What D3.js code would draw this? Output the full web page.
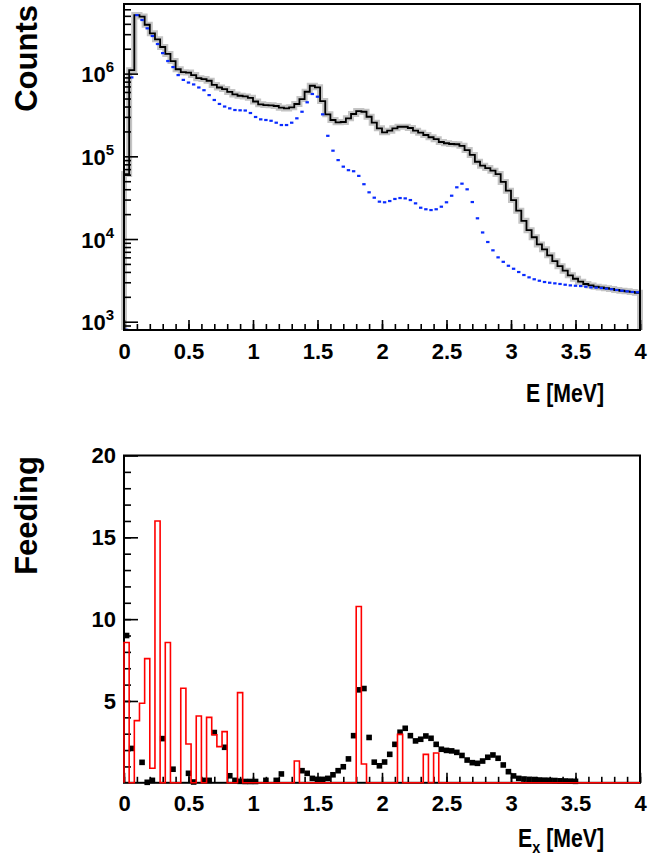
<!DOCTYPE html>
<html>
<head>
<meta charset="utf-8">
<script src="https://cdn.jsdelivr.net/npm/d3@7"></script>
<style>
body { margin: 0; background: #fff; }
text { font-family: "Liberation Sans", Arial, sans-serif; font-weight: bold; }
</style>
</head>
<body>
<script>
"use strict";

// data, 0.04 MeV bins from 0 to 4 MeV

const binWidth = 0.04;

// top pad: total spectrum (black hist) and background component (blue markers)
const countsTotal = [
    6.1e4, 1.1e6, 5.1e6, 4.9e6, 3.9e6, 3.07e6, 2.6e6, 2.1e6, 1.73e6, 1.42e6,
    1.13e6, 1.04e6, 1.03e6, 9.6e5, 8.8e5, 8.6e5, 8.2e5, 7.3e5, 6.8e5, 6.5e5,
    6.0e5, 5.6e5, 5.4e5, 5.3e5, 5.1e5, 4.6e5, 4.25e5, 4.17e5, 4.14e5, 4.06e5,
    3.87e5, 3.8e5, 3.91e5, 4.29e5, 4.93e5, 6.04e5, 7.14e5, 6.82e5, 4.66e5, 3.22e5,
    2.75e5, 2.58e5, 2.6e5, 2.88e5, 3.25e5, 3.53e5, 3.46e5, 3.01e5, 2.55e5, 2.18e5,
    1.95e5, 2.04e5, 2.18e5, 2.28e5, 2.28e5, 2.2e5, 2.04e5, 1.93e5, 1.81e5, 1.7e5,
    1.61e5, 1.49e5, 1.44e5, 1.41e5, 1.4e5, 1.34e5, 1.19e5, 1.04e5, 8.6e4, 7.7e4,
    7.2e4, 6.7e4, 6.1e4, 4.9e4, 3.84e4, 2.96e4, 2.2e4, 1.66e4, 1.28e4, 1.05e4,
    8.6e3, 7.5e3, 6.35e3, 5.4e3, 4.7e3, 4.14e3, 3.64e3, 3.31e3, 3.05e3, 2.86e3,
    2.75e3, 2.65e3, 2.6e3, 2.54e3, 2.49e3, 2.42e3, 2.37e3, 2.33e3, 2.29e3, 2.24e3
];

const countsBackground = [
    8.0e2, 9.0e5, 5.1e6, 4.45e6, 3.53e6, 2.85e6, 2.28e6, 1.77e6, 1.42e6, 1.2e6,
    9.6e5, 8.4e5, 7.8e5, 7.4e5, 6.8e5, 6.3e5, 5.5e5, 4.8e5, 4.3e5, 4.0e5,
    3.8e5, 3.63e5, 3.6e5, 3.58e5, 3.34e5, 2.99e5, 2.8e5, 2.75e5, 2.69e5, 2.55e5,
    2.39e5, 2.39e5, 2.55e5, 2.88e5, 3.46e5, 4.5e5, 5.67e5, 5.26e5, 3.22e5, 1.77e5,
    1.17e5, 9.0e4, 7.5e4, 6.8e4, 6.6e4, 5.8e4, 4.6e4, 3.67e4, 3.16e4, 2.83e4,
    2.78e4, 2.88e4, 3.05e4, 3.13e4, 3.1e4, 2.96e4, 2.7e4, 2.39e4, 2.29e4, 2.24e4,
    2.29e4, 2.46e4, 2.78e4, 3.34e4, 4.22e4, 4.67e4, 3.99e4, 2.8e4, 1.78e4, 1.2e4,
    9.2e3, 7.3e3, 6.0e3, 5.3e3, 4.75e3, 4.37e3, 3.99e3, 3.67e3, 3.44e3, 3.26e3,
    3.13e3, 3.02e3, 2.96e3, 2.91e3, 2.86e3, 2.8e3, 2.75e3, 2.72e3, 2.7e3, 2.65e3,
    2.6e3, 2.58e3, 2.55e3, 2.51e3, 2.47e3, 2.42e3, 2.37e3, 2.33e3, 2.29e3, 2.27e3
];

// bottom pad: feeding from fit (black squares, null = no point) and red histogram
const feedingFit = [
    9.0, 2.1, null, 1.25, 0.03, 0.15, null, 2.7, null, 0.83,
    null, null, 0.58, 0.05, null, 0.15, 0.15, 3.07, null, 2.17,
    0.43, 0.15, 0.09, 0.08, 0.08, 0.08, null, 0.15, null, 0.15,
    0.54, null, null, null, 0.74, 0.58, 0.27, 0.21, 0.21, 0.27,
    0.49, 0.74, 0.98, 1.46, 2.88, 5.68, 5.76, 2.77, 1.26, 1.04,
    1.27, 1.74, 2.35, 3.09, 3.33, 2.88, 2.56, 2.66, 2.86, 2.72,
    2.35, 2.05, 1.98, 1.95, 1.86, 1.67, 1.39, 1.23, 1.19, 1.33,
    1.56, 1.70, 1.50, 1.09, 0.68, 0.42, 0.27, 0.23, 0.21, 0.2,
    0.17, 0.16, 0.15, 0.14, 0.12, 0.11, 0.1, 0.09
];

const feedingHist = [
    8.57, 0, 3.8, 4.86, 7.59, 0.89, 16.0, 0, 8.57, 0,
    0, 5.78, 2.37, 0, 4.08, 0, 4.0, 2.94, 2.21, 3.13,
    0, 0, 5.51, 0, 0, 0, 0, 0, 0, 0,
    0, 0, 0, 1.33, 0, 0, 0, 0, 0, 0,
    0, 0, 0, 0, 0, 10.77, 1.15, 0, 0, 0,
    0, 0, 0, 2.96, 0, 0, 0, 0, 1.74, 0,
    1.82, 0, 0, 0, 0, 0, 0, 0, 0, 0,
    0, 0, 0, 0, 0, 0, 0, 0, 0, 0,
    0, 0, 0, 0, 0, 0, 0, 0, 0, 0,
    0, 0, 0, 0, 0, 0, 0, 0, 0, 0
];

// ticks
const energyMajor = [0, 0.5, 1, 1.5, 2, 2.5, 3, 3.5, 4];
const energyLabels = ["0", "0.5", "1", "1.5", "2", "2.5", "3", "3.5", "4"];
const energyMinor = d3.range(0, 41).map((i) => i / 10);
const countDecades = [1e3, 1e4, 1e5, 1e6];
const countExponents = ["3", "4", "5", "6"];
const countMinor = [8e2, 9e2, 2e3, 3e3, 4e3, 5e3, 6e3, 7e3, 8e3, 9e3,
    2e4, 3e4, 4e4, 5e4, 6e4, 7e4, 8e4, 9e4, 2e5, 3e5, 4e5, 5e5, 6e5, 7e5,
    8e5, 9e5, 2e6, 3e6, 4e6, 5e6, 6e6];
const feedingMajor = [5, 10, 15, 20];
const feedingMinor = d3.range(1, 20);

// layout

const W = 666, H = 861;
const left = 124, right = 640;
const padTop = {y0: 4, y1: 330};
const padBot = {y0: 455.5, y1: 782.8};

const svg = d3.select('body')
    .append('svg')
    .attr('width', W)
    .attr('height', H);

const xTop = d3.scaleLinear().domain([0, 4]).range([left, right]);
const xBot = d3.scaleLinear().domain([0, 4]).range([left, right]);
const yTop = d3.scaleLog().domain([794, 6.95e6]).range([padTop.y1, padTop.y0]);
const yBot = d3.scaleLinear().domain([0, 20]).range([padBot.y1, padBot.y0]);

const styleAxis = (g) => {
    g.select('.domain').remove();
    g.selectAll('line').attr('stroke', '#000').attr('stroke-width', 1.6);
    g.selectAll('text').attr('font-size', 22).attr('fill', '#000');
};

const drawXAxis = (x, yPix) => {
    svg.append('g')
	.attr('transform', 'translate(0,' + yPix + ')')
	.call(d3.axisBottom(x).tickValues(energyMinor).tickSize(-6).tickFormat(''))
	.call(styleAxis);
    svg.append('g')
	.attr('transform', 'translate(0,' + yPix + ')')
	.call(d3.axisBottom(x).tickValues(energyMajor).tickSize(-10).tickPadding(13)
	      .tickFormat((d, i) => energyLabels[i]))
	.call(styleAxis);
};

const drawFrame = (p) => {
    svg.append('rect')
	.attr('x', left)
	.attr('y', p.y0)
	.attr('width', right - left)
	.attr('height', p.y1 - p.y0)
	.attr('fill', 'none')
	.attr('stroke', '#000')
	.attr('stroke-width', 2);
};

const histPoints = (vals, base) => {
    let pts = [[0, base]];
    vals.forEach((v, i) => pts.push([i * binWidth, v]));
    pts.push([vals.length * binWidth, vals[vals.length - 1]]);
    pts.push([vals.length * binWidth, base]);
    return pts;
};

// ---- top pad ----

const topLine = d3.line()
    .x((d) => xTop(d[0]))
    .y((d) => yTop(d[1]))
    .curve(d3.curveStepAfter);

svg.append('path')
    .attr('d', topLine(histPoints(countsTotal, yTop.domain()[0])))
    .attr('fill', 'none')
    .attr('stroke', '#c4c4c4')
    .attr('stroke-width', 6);

svg.append('path')
    .attr('d', topLine(histPoints(countsTotal, yTop.domain()[0])))
    .attr('fill', 'none')
    .attr('stroke', '#000')
    .attr('stroke-width', 1.8);

svg.append('g').selectAll('rect')
    .data(countsBackground)
    .enter()
    .append('rect')
    .attr('x', (d, i) => xTop((i + 0.5) * binWidth) - 1.7)
    .attr('y', (d) => yTop(d) - 1.1)
    .attr('width', 3.4)
    .attr('height', 2.2)
    .attr('fill', '#0a2cff');

drawXAxis(xTop, padTop.y1);

svg.append('g')
    .attr('transform', 'translate(' + left + ',0)')
    .call(d3.axisLeft(yTop).tickValues(countMinor).tickSize(-7).tickFormat(''))
    .call(styleAxis);

const yTopAxis = svg.append('g')
    .attr('transform', 'translate(' + left + ',0)')
    .call(d3.axisLeft(yTop).tickValues(countDecades).tickSize(-14).tickPadding(10)
	  .tickFormat(''))
    .call(styleAxis);

yTopAxis.selectAll('.tick text')
    .each(function(d, i) {
	const t = d3.select(this).attr('dy', null).attr('y', 8);
	t.append('tspan').text('10');
	t.append('tspan').attr('dy', -10).attr('font-size', 15).text(countExponents[i]);
    });

drawFrame(padTop);

svg.append('text')
    .attr('transform', 'translate(37,5) rotate(-90)')
    .attr('text-anchor', 'end')
    .attr('font-size', 31)
    .text('Counts');

svg.append('text')
    .attr('transform', 'translate(604,402) scale(0.85,1)')
    .attr('text-anchor', 'end')
    .attr('font-size', 25)
    .text('E [MeV]');

// ---- bottom pad ----

const botLine = d3.line()
    .x((d) => xBot(d[0]))
    .y((d) => yBot(d[1]))
    .curve(d3.curveStepAfter);

svg.append('g').selectAll('rect')
    .data(feedingFit.map((v, i) => [i, v]).filter((d) => d[1] !== null))
    .enter()
    .append('rect')
    .attr('x', (d) => xBot((d[0] + 0.5) * binWidth) - 2.8)
    .attr('y', (d) => yBot(d[1]) - 2.8)
    .attr('width', 5.6)
    .attr('height', 5.6)
    .attr('fill', '#000');

drawXAxis(xBot, padBot.y1);

svg.append('g')
    .attr('transform', 'translate(' + left + ',0)')
    .call(d3.axisLeft(yBot).tickValues(feedingMinor).tickSize(-7).tickFormat(''))
    .call(styleAxis);

svg.append('g')
    .attr('transform', 'translate(' + left + ',0)')
    .call(d3.axisLeft(yBot).tickValues(feedingMajor).tickSize(-14).tickPadding(8))
    .call(styleAxis);

drawFrame(padBot);

svg.append('path')
    .attr('d', botLine(histPoints(feedingHist, 0)))
    .attr('fill', 'none')
    .attr('stroke', '#f00')
    .attr('stroke-width', 1.6);

svg.append('text')
    .attr('transform', 'translate(37,456) rotate(-90)')
    .attr('text-anchor', 'end')
    .attr('font-size', 31)
    .text('Feeding');

const exLabel = svg.append('text')
    .attr('transform', 'translate(604,847) scale(0.85,1)')
    .attr('text-anchor', 'end')
    .attr('font-size', 25);
exLabel.append('tspan').text('E');
exLabel.append('tspan').attr('dy', 6).attr('font-size', 17).text('x');
exLabel.append('tspan').attr('dy', -6).text(' [MeV]');
</script>
</body>
</html>
